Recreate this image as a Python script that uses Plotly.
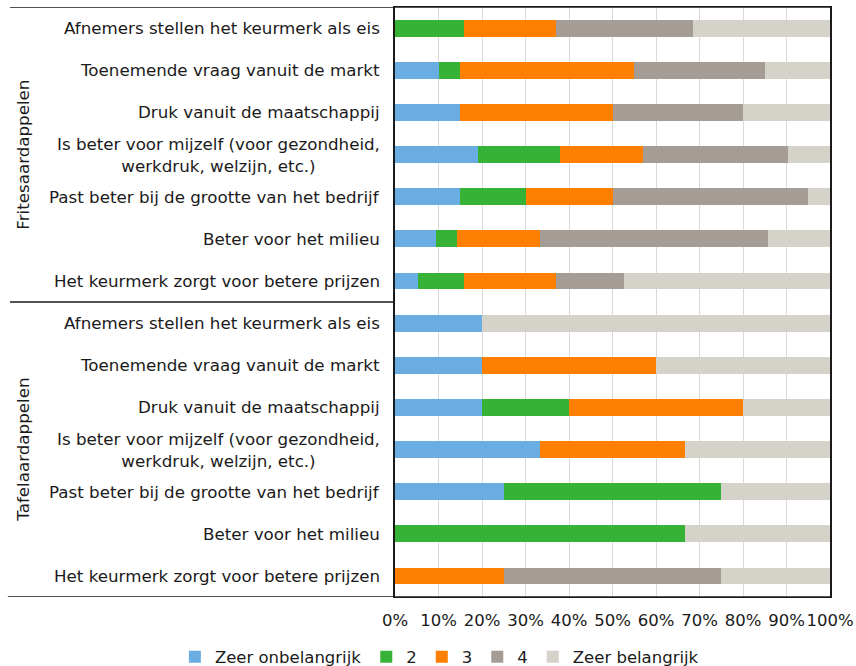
import plotly.graph_objects as go

# Groups and item labels (top to bottom)
groups = ["Fritesaardappelen", "Tafelaardappelen"]
items = [
    "Afnemers stellen het keurmerk als eis",
    "Toenemende vraag vanuit de markt",
    "Druk vanuit de maatschappij",
    "Is beter voor mijzelf (voor gezondheid,<br>werkdruk, welzijn, etc.)",
    "Past beter bij de grootte van het bedrijf",
    "Beter voor het milieu",
    "Het keurmerk zorgt voor betere prijzen",
]

series_names = ["Zeer onbelangrijk", "2", "3", "4", "Zeer belangrijk"]
series_colors = ["#6AADE3", "#36B336", "#FF7F00", "#A59C95", "#D5D2CA"]

# Percentages per row: first 7 rows Fritesaardappelen, next 7 Tafelaardappelen
zeer_onbelangrijk = [0, 10, 15, 19.0, 15, 9.5, 5.3,
                     20, 20, 20, 33.3, 25, 0, 0]
score_2 = [15.8, 5, 0, 19.0, 15, 4.8, 10.5,
           0, 0, 20, 0, 50, 66.7, 0]
score_3 = [21.1, 40, 35, 19.1, 20, 19.0, 21.1,
           0, 40, 40, 33.3, 0, 0, 25]
score_4 = [31.6, 30, 30, 33.3, 45, 52.4, 15.8,
           0, 0, 0, 0, 0, 0, 50]
zeer_belangrijk = [31.5, 15, 20, 9.6, 5, 14.3, 47.3,
                   80, 40, 20, 33.4, 25, 33.3, 25]

series_values = [zeer_onbelangrijk, score_2, score_3, score_4, zeer_belangrijk]

x_tick_values = [0, 10, 20, 30, 40, 50, 60, 70, 80, 90, 100]
x_tick_labels = ["0%", "10%", "20%", "30%", "40%", "50%",
                 "60%", "70%", "80%", "90%", "100%"]

# unique category keys
keys = [f"{g}|{it}" for g in groups for it in items]
labels = [it for g in groups for it in items]

FONT = "DejaVu Sans, Verdana, sans-serif"
FS = 16.7
TXT = "#1a1a1a"

fig = go.Figure()
for name, color, vals in zip(series_names, series_colors, series_values):
    fig.add_trace(go.Bar(
        y=keys, x=vals, name=name, orientation="h",
        marker=dict(color=color, line=dict(width=0)),
    ))

annotations = []
for k, lab in zip(keys, labels):
    annotations.append(dict(
        x=0, xref="paper", y=k, yref="y", text=lab, showarrow=False,
        xanchor="right", yanchor="middle", align="center", xshift=-13,
        font=dict(family=FONT, size=FS, color=TXT),
    ))
n = len(items)
for gi, g in enumerate(groups):
    annotations.append(dict(
        x=-0.857, xref="paper", y=keys[gi * n + n // 2], yref="y", text=g,
        showarrow=False, textangle=-90, xanchor="center", yanchor="middle",
        font=dict(family=FONT, size=FS, color=TXT),
    ))

shapes = [
    dict(type="line", xref="paper", yref="y", x0=-0.885, x1=1, y0=-0.5, y1=-0.5,
         line=dict(color=TXT, width=1.3)),
    dict(type="line", xref="paper", yref="y", x0=-0.885, x1=0, y0=n - 0.5, y1=n - 0.5,
         line=dict(color=TXT, width=1.3)),
    dict(type="line", xref="paper", yref="y", x0=-0.89, x1=1, y0=2 * n - 0.5, y1=2 * n - 0.5,
         line=dict(color=TXT, width=1.3)),
]

fig.update_layout(
    width=856, height=666,
    margin=dict(l=395, r=26, t=7, b=69, autoexpand=False),
    barmode="stack", bargap=0.6,
    plot_bgcolor="white", paper_bgcolor="white",
    font=dict(family=FONT, size=FS, color=TXT),
    xaxis=dict(range=[0, 100], tickvals=x_tick_values, ticktext=x_tick_labels,
               showgrid=True, gridcolor="#D9D9D9", gridwidth=1,
               zeroline=False, showline=True, mirror=True,
               linecolor=TXT, linewidth=1.3, ticks="", ticklabelstandoff=8,
               tickangle=0, ticklabeloverflow="allow",
               tickfont=dict(family=FONT, size=16.5, color=TXT)),
    yaxis=dict(categoryorder="array", categoryarray=keys,
               range=[2 * n - 0.5, -0.5], showticklabels=False,
               showgrid=False, zeroline=False, showline=True, mirror=True,
               linecolor=TXT, linewidth=1.5, ticks=""),
    legend=dict(orientation="h", xref="paper", yref="paper",
                x=-0.506, xanchor="left", y=-0.1017, yanchor="middle",
                font=dict(family=FONT, size=16.5, color=TXT),
                itemwidth=30, traceorder="normal"),
    annotations=annotations,
    shapes=shapes,
)

fig.write_html("out.html",
               config={"displayModeBar": False},
               post_script="document.body.style.margin='0';document.body.style.overflow='hidden';")
